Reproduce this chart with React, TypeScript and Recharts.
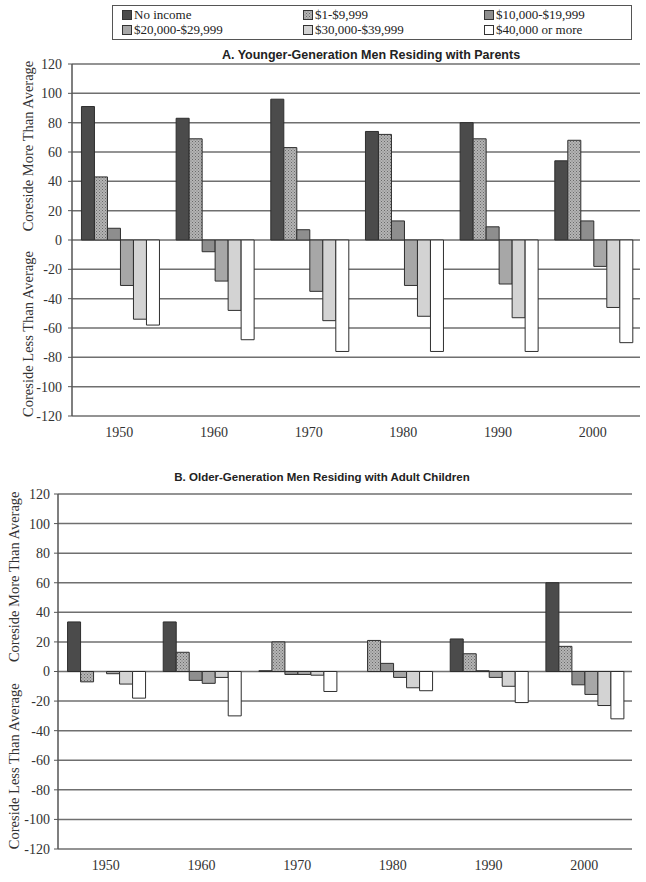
import React from 'react';
import { BarChart, Bar, XAxis, YAxis, CartesianGrid } from 'recharts';

// decades on the x axis
const years = ['1950', '1960', '1970', '1980', '1990', '2000'];
const yTicks = [-120, -100, -80, -60, -40, -20, 0, 20, 40, 60, 80, 100, 120];

// income groups, in legend order
const groups = [
  'No income',
  '$1-$9,999',
  '$10,000-$19,999',
  '$20,000-$29,999',
  '$30,000-$39,999',
  '$40,000 or more',
];
const fills = ['#4b4b4b', 'url(#dots)', '#8e8e8e', '#a7a7a7', '#d3d3d3', '#ffffff'];

// A. younger-generation men residing with parents
const youngNoIncome = [91, 83, 96, 74, 80, 54];
const young1to10 = [43, 69, 63, 72, 69, 68];
const young10to20 = [8, -8, 7, 13, 9, 13];
const young20to30 = [-31, -28, -35, -31, -30, -18];
const young30to40 = [-54, -48, -55, -52, -53, -46];
const young40plus = [-58, -68, -76, -76, -76, -70];

// B. older-generation men residing with adult children
const oldNoIncome = [33.5, 33.5, 0.5, 0, 22, 60];
const old1to10 = [-7, 13, 20, 21, 12, 17];
const old10to20 = [0, -6, -2, 5.5, 0.5, -9];
const old20to30 = [-1.5, -8, -2, -4, -4, -15.5];
const old30to40 = [-8.5, -4, -2.5, -11, -10, -23];
const old40plus = [-18, -30, -13.5, -13, -21, -32];

const makeRows = (series: number[][]) =>
  years.map((year, i) => {
    const row: Record<string, string | number> = { year };
    groups.forEach((g, j) => {
      row[g] = series[j][i];
    });
    return row;
  });

const youngData = makeRows([youngNoIncome, young1to10, young10to20, young20to30, young30to40, young40plus]);
const oldData = makeRows([oldNoIncome, old1to10, old10to20, old20to30, old30to40, old40plus]);

const serif = '"Liberation Serif", "Times New Roman", serif';
const sans = '"Liberation Sans", Arial, sans-serif';

const SideLabels = (labelX: number) => (props: any) => {
  const vb = props.viewBox || {};
  const top = vb.y ?? 0;
  const h = vb.height ?? 0;
  const items = [
    { text: 'Coreside More Than Average', cy: top + h * 0.25 - 6 },
    { text: 'Coreside Less Than Average', cy: top + h * 0.75 + 6 },
  ];
  return (
    <g>
      {items.map((it) => (
        <text
          key={it.text}
          x={labelX}
          y={it.cy}
          transform={`rotate(-90 ${labelX} ${it.cy})`}
          textAnchor="middle"
          dominantBaseline="central"
          fontFamily={serif}
          fontSize={14.5}
          fill="#333"
        >
          {it.text}
        </text>
      ))}
    </g>
  );
};

interface PanelProps {
  data: Record<string, string | number>[];
  top: number;
  height: number;
  margin: { top: number; right: number; bottom: number; left: number };
  axisWidth: number;
  tickMargin: number;
  labelX: number;
}

const Panel = ({ data, top, height, margin, axisWidth, tickMargin, labelX }: PanelProps) => (
  <div style={{ position: 'absolute', left: 0, top }}>
    <BarChart width={646} height={height} data={data} margin={margin} barCategoryGap="10%" barGap={0}>
      <CartesianGrid vertical={false} stroke="#6f6f6f" strokeWidth={1.5} />
      <XAxis
        dataKey="year"
        height={30}
        axisLine={false}
        tickLine={false}
        tick={{ fontFamily: serif, fontSize: 14, fill: '#333' }}
        tickMargin={5}
      />
      <YAxis
        width={axisWidth}
        domain={[-120, 120]}
        ticks={yTicks}
        interval={0}
        axisLine={{ stroke: '#555', strokeWidth: 1.5 }}
        tickLine={{ stroke: '#555' }}
        tickSize={4}
        tickMargin={tickMargin}
        tick={{ fontFamily: serif, fontSize: 14, fill: '#333' }}
        label={{ content: SideLabels(labelX) }}
      />
      {groups.map((g, j) => (
        <Bar key={g} dataKey={g} fill={fills[j]} stroke="#2e2e2e" strokeWidth={1} isAnimationActive={false} />
      ))}
    </BarChart>
  </div>
);

const legendCols = [122, 303, 484];

const App: React.FC = () => {
  return (
    <div style={{ position: 'absolute', left: 0, top: 0, width: 646, height: 882, background: '#fff' }}>
      <svg width={0} height={0} style={{ position: 'absolute' }}>
        <defs>
          <pattern id="dots" width={3} height={3} patternUnits="userSpaceOnUse">
            <rect width={3} height={3} fill="#b4b4b4" />
            <rect width={1} height={1} fill="#6a6a6a" />
            <rect x={1.5} y={1.5} width={1} height={1} fill="#7a7a7a" />
          </pattern>
        </defs>
      </svg>

      {/* legend box */}
      <div
        style={{
          position: 'absolute',
          left: 112,
          top: 5,
          width: 520,
          height: 35,
          border: '1.5px solid #555',
          boxSizing: 'border-box',
        }}
      />
      {groups.map((g, j) => (
        <div
          key={g}
          style={{
            position: 'absolute',
            left: legendCols[j % 3],
            top: j < 3 ? 8 : 23,
            display: 'flex',
            alignItems: 'center',
            fontFamily: serif,
            fontSize: 13,
            lineHeight: '14px',
            height: 14,
            color: '#222',
            whiteSpace: 'nowrap',
          }}
        >
          <svg width={10} height={10} style={{ marginRight: 2 }}>
            <rect x={0.5} y={0.5} width={9} height={9} fill={fills[j]} stroke="#333" />
          </svg>
          {g}
        </div>
      ))}

      <div
        style={{
          position: 'absolute',
          left: 171,
          width: 400,
          top: 48,
          textAlign: 'center',
          fontFamily: sans,
          fontWeight: 'bold',
          fontSize: 12.5,
          color: '#222',
        }}
      >
        A. Younger-Generation Men Residing with Parents
      </div>
      <Panel
        data={youngData}
        top={0}
        height={450}
        margin={{ top: 64, right: 6, bottom: 4, left: 0 }}
        axisWidth={72}
        tickMargin={6}
        labelX={28}
      />

      <div
        style={{
          position: 'absolute',
          left: 122,
          width: 400,
          top: 471,
          textAlign: 'center',
          fontFamily: sans,
          fontWeight: 'bold',
          fontSize: 11.5,
          color: '#222',
        }}
      >
        B. Older-Generation Men Residing with Adult Children
      </div>
      <Panel
        data={oldData}
        top={440}
        height={442}
        margin={{ top: 54, right: 14, bottom: 3, left: 0 }}
        axisWidth={58}
        tickMargin={4}
        labelX={14}
      />
    </div>
  );
};

export default App;
